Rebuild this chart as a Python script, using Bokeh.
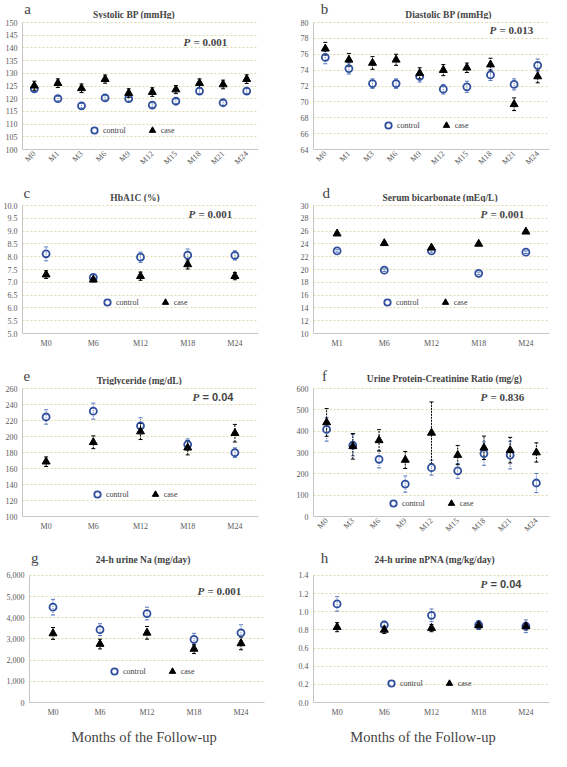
from math import pi
from bokeh.plotting import figure
from bokeh.models import (ColumnDataSource, Whisker, TeeHead, Label, Legend, LegendItem,
                          FixedTicker, NumeralTickFormatter, FactorRange, Range1d)
from bokeh.layouts import column, row
from bokeh.embed import file_html
from bokeh.resources import INLINE

# ---------------- data ----------------
months10 = ["M0", "M1", "M3", "M6", "M9", "M12", "M15", "M18", "M21", "M24"]
months9 = ["M0", "M3", "M6", "M9", "M12", "M15", "M18", "M21", "M24"]
months5 = ["M0", "M6", "M12", "M18", "M24"]
months5_d = ["M1", "M6", "M12", "M18", "M24"]

sbp_control = [123.9, 120.0, 117.2, 120.3, 120.0, 117.5, 119.0, 123.0, 118.4, 123.0]
sbp_control_se = [1.0, 0.9, 0.9, 0.9, 1.0, 0.9, 1.0, 1.0, 1.0, 1.0]
sbp_case = [125.1, 126.1, 124.1, 127.7, 122.2, 122.6, 123.6, 126.1, 125.6, 127.7]
sbp_case_se = [1.8, 1.7, 1.7, 1.6, 1.7, 1.7, 1.6, 1.7, 1.7, 1.7]
sbp_ticks = [100, 105, 110, 115, 120, 125, 130, 135, 140, 145, 150]

dbp_control = [75.6, 74.2, 72.3, 72.3, 73.2, 71.6, 71.9, 73.4, 72.2, 74.6]
dbp_control_se = [0.8, 0.7, 0.6, 0.6, 0.7, 0.6, 0.7, 0.7, 0.7, 0.8]
dbp_case = [76.7, 75.3, 74.9, 75.3, 73.6, 74.0, 74.3, 74.7, 69.7, 73.2]
dbp_case_se = [0.8, 0.8, 0.8, 0.7, 0.7, 0.7, 0.6, 0.8, 0.8, 0.8]
dbp_ticks = [64, 66, 68, 70, 72, 74, 76, 78, 80]

hba1c_control = [8.11, 7.19, 7.98, 8.06, 8.05]
hba1c_control_se = [0.27, 0.10, 0.20, 0.24, 0.18]
hba1c_case = [7.30, 7.10, 7.24, 7.70, 7.24]
hba1c_case_se = [0.15, 0.08, 0.16, 0.18, 0.14]
hba1c_ticks = [5.0, 5.5, 6.0, 6.5, 7.0, 7.5, 8.0, 8.5, 9.0, 9.5, 10.0]

bicarb_control = [22.9, 19.9, 22.9, 19.4, 22.7]
bicarb_control_se = [0.2, 0.2, 0.2, 0.2, 0.2]
bicarb_case = [25.6, 24.1, 23.4, 24.0, 25.9]
bicarb_case_se = [0.2, 0.2, 0.2, 0.2, 0.2]
bicarb_ticks = [10, 12, 14, 16, 18, 20, 22, 24, 26, 28, 30]

tg_control = [224.4, 231.7, 213.4, 190.0, 179.8]
tg_control_se = [9, 10, 10, 7, 6]
tg_case = [168.5, 192.8, 206.2, 186.0, 204.1]
tg_case_se = [6, 8, 10, 9, 11]
tg_ticks = [100, 120, 140, 160, 180, 200, 220, 240, 260]

upcr_control = [408, 334, 268, 152, 229, 214, 295, 288, 157]
upcr_control_se = [55, 50, 40, 38, 35, 35, 55, 65, 45]
upcr_case = [441, 329, 357, 265, 392, 288, 322, 311, 300]
upcr_case_se = [65, 60, 50, 40, 145, 45, 55, 60, 45]
upcr_ticks = [0, 100, 200, 300, 400, 500, 600]

una_control = [4500, 3440, 4200, 2985, 3290]
una_control_se = [370, 280, 300, 280, 380]
una_case = [3260, 2760, 3290, 2530, 2790]
una_case_se = [280, 230, 300, 220, 300]
una_ticks = [0, 1000, 2000, 3000, 4000, 5000, 6000]

npna_control = [1.086, 0.854, 0.96, 0.854, 0.84]
npna_control_se = [0.08, 0.04, 0.07, 0.05, 0.07]
npna_case = [0.83, 0.80, 0.82, 0.85, 0.84]
npna_case_se = [0.05, 0.04, 0.04, 0.04, 0.04]
npna_ticks = [0.0, 0.2, 0.4, 0.6, 0.8, 1.0, 1.2, 1.4]

x_title = "Months of the Follow-up"

SERIF = "Liberation Serif"
BLUE = "#2f4f9e"
BLUE_ERR = "#5676bd"


def text_strip(width, height, items):
    """A blank strip whose frame is the whole canvas, holding text labels."""
    f = figure(width=width, height=height, x_range=Range1d(0, width),
               y_range=Range1d(0, height), x_axis_type=None, y_axis_type=None,
               output_backend="svg", toolbar_location=None, min_border=0)
    f.outline_line_color = None
    f.grid.visible = False
    for it in items:
        f.add_layout(Label(text_font=SERIF, text_baseline="middle", **it))
    return f


def panel(letter, title, cats, ctrl, ctrl_se, case, case_se, ticks, fmt, pval,
          width, head_h, body_h, borders, pad, letter_x, letter_y, title_x, title_y,
          rotate=False, legend_xy=(70, 14), p_xy=(165, 116), pfont=SERIF, foot=None):
    bl, br, bb = borders
    fh = body_h - bb
    lo, hi = ticks[0], ticks[-1]
    ext = (hi - lo) * pad / (fh - pad)
    p = figure(width=width, height=body_h, x_range=FactorRange(factors=cats),
               y_range=Range1d(lo, hi + ext), output_backend="svg",
               toolbar_location=None, min_border_left=bl, min_border_right=br,
               min_border_top=0, min_border_bottom=bb)
    p.outline_line_color = None
    p.xgrid.grid_line_color = None
    p.ygrid.grid_line_color = "#e0daae"
    p.ygrid.grid_line_dash = "2 2"
    p.yaxis.ticker = FixedTicker(ticks=ticks)
    p.ygrid.ticker = FixedTicker(ticks=ticks)
    p.yaxis.formatter = NumeralTickFormatter(format=fmt)
    p.yaxis.bounds = (lo, hi)
    for ax in (p.xaxis[0], p.yaxis[0]):
        ax.axis_line_color = "#c6c6c6"
        ax.major_tick_line_color = None
        ax.minor_tick_line_color = None
        ax.major_tick_out = 0
        ax.major_tick_in = 0
        ax.major_label_text_font = SERIF
        ax.major_label_text_font_size = "8px"
        ax.major_label_text_color = "#595959"
        ax.major_label_standoff = 5
    if rotate:
        p.xaxis.major_label_orientation = pi / 4
        p.xaxis.major_label_standoff = 3

    src_c = ColumnDataSource(dict(x=cats, y=ctrl,
                                  lo=[v - e for v, e in zip(ctrl, ctrl_se)],
                                  hi=[v + e for v, e in zip(ctrl, ctrl_se)]))
    src_k = ColumnDataSource(dict(x=cats, y=case,
                                  lo=[v - e for v, e in zip(case, case_se)],
                                  hi=[v + e for v, e in zip(case, case_se)]))
    for src, col, dash in ((src_c, BLUE_ERR, "1 1"), (src_k, "black", "2 1")):
        p.add_layout(Whisker(base="x", upper="hi", lower="lo", source=src, line_color=col,
                             line_dash=dash, line_width=1,
                             upper_head=TeeHead(size=4, line_color=col, line_width=1),
                             lower_head=TeeHead(size=4, line_color=col, line_width=1)))
    r_c = p.scatter("x", "y", source=src_c, marker="circle", size=7, fill_alpha=0,
                    line_color=BLUE, line_width=1.8)
    r_k = p.scatter("x", "y", source=src_k, marker="triangle", size=8,
                    fill_color="black", line_color="black")

    p.add_layout(Legend(items=[LegendItem(label="control", renderers=[r_c]),
                               LegendItem(label="case", renderers=[r_k])],
                        location=legend_xy, orientation="horizontal", spacing=18,
                        padding=0, margin=0, glyph_width=16, glyph_height=16,
                        label_standoff=1, border_line_color=None,
                        background_fill_alpha=0, label_text_font=SERIF,
                        label_text_font_size="8px", label_text_color="#404040"))

    px, py = p_xy
    p.add_layout(Label(x=px, y=py, x_units="screen", y_units="screen", text="P",
                       text_font=SERIF, text_font_style="bold italic",
                       text_font_size="11px", text_baseline="middle"))
    p.add_layout(Label(x=px + 10, y=py, x_units="screen", y_units="screen",
                       text="= " + pval, text_font=pfont, text_font_style="bold",
                       text_font_size="11px", text_baseline="middle"))

    head = text_strip(width, head_h, [
        dict(x=letter_x, y=letter_y, text=letter, text_font_size="15px", text_align="center"),
        dict(x=title_x, y=title_y, text=title, text_font_size="9.5px",
             text_font_style="bold", text_align="center"),
    ])
    parts = [head, p]
    if foot:
        foot_h, foot_x = foot
        parts.append(text_strip(width, foot_h, [
            dict(x=foot_x, y=15, text=x_title, text_font_size="14.5px",
                 text_align="center")]))
    return column(*parts)


LW, RW = 275, 276
pa = panel("a", "Systolic BP (mmHg)", months10, sbp_control, sbp_control_se, sbp_case,
           sbp_case_se, sbp_ticks, "0", "0.001", LW, 19, 163, (22, 17, 33), 3,
           6, 11, 130, 5, rotate=True, legend_xy=(64, 11), p_xy=(161, 108))
pb = panel("b", "Diastolic BP (mmHg)", months10, dbp_control, dbp_control_se, dbp_case,
           dbp_case_se, dbp_ticks, "0", "0.013", RW, 19, 163, (38, 2, 33), 3,
           13, 11, 158, 5, rotate=True, legend_xy=(67, 16), p_xy=(176, 120))
pc = panel("c", "HbA1C (%)", months5, hba1c_control, hba1c_control_se, hba1c_case,
           hba1c_case_se, hba1c_ticks, "0.0", "0.001", LW, 20, 156, (22, 17, 25), 3,
           5, 10, 131, 5, legend_xy=(77, 23), p_xy=(166, 120))
pd_ = panel("d", "Serum bicarbonate (mEq/L)", months5_d, bicarb_control, bicarb_control_se,
            bicarb_case, bicarb_case_se, bicarb_ticks, "0", "0.001", RW, 20, 156,
            (38, 2, 25), 3, 15, 10, 148, 5, legend_xy=(66, 23), p_xy=(167, 120))
pe = panel("e", "Triglyceride (mg/dL)", months5, tg_control, tg_control_se, tg_case,
           tg_case_se, tg_ticks, "0", "0.04", LW, 27, 154, (22, 17, 23), 3,
           5, 10, 136, 5, legend_xy=(67, 14), p_xy=(170, 120), pfont="Liberation Sans")
pf = panel("f", "Urine Protein-Creatinine Ratio (mg/g)", months9, upcr_control,
           upcr_control_se, upcr_case, upcr_case_se, upcr_ticks, "0", "0.836", RW, 27, 154,
           (38, 2, 23), 3, 13, 10, 153, 7, rotate=True, legend_xy=(72, 5), p_xy=(167, 120))
pg = panel("g", "24-h urine Na (mg/day)", months5, una_control, una_control_se, una_case,
           una_case_se, una_ticks, "0,0", "0.001", LW, 27, 153, (29, 11, 16), 9,
           6, 9, 133, 7, legend_xy=(77, 23), p_xy=(168, 112), foot=(32, 134))
ph = panel("h", "24-h urine nPNA (mg/kg/day)", months5, npna_control, npna_control_se,
           npna_case, npna_case_se, npna_ticks, "0.0", "0.04", RW, 27, 153, (38, 2, 16), 9,
           13, 9, 142, 7, legend_xy=(70, 11), p_xy=(167, 119), pfont="Liberation Sans",
           foot=(32, 128))

layout = column(row(pa, pb), row(pc, pd_), row(pe, pf), row(pg, ph))
open("out.html", "w").write(file_html(layout, INLINE))
